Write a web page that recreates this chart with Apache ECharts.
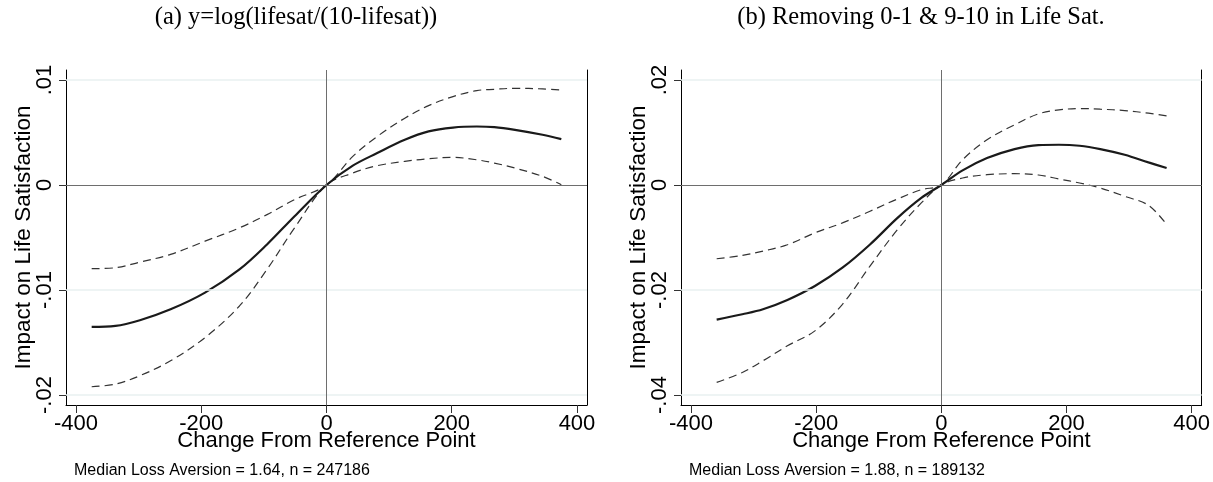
<!DOCTYPE html>
<html><head><meta charset="utf-8">
<script src="https://cdn.jsdelivr.net/npm/echarts@6/dist/echarts.min.js"></script>
<style>html,body{margin:0;padding:0;background:#fff}#c{width:1213px;height:482px}</style>
</head><body><div id="c"></div>
<script>
// ---- Panel (a) data ----
const xA = [-375,-337,-298,-249,-194,-139,-95,-51,0,42,81,125,163,202,240,268,301,345,375];
const estA = [-0.01351,-0.01342,-0.01288,-0.01184,-0.01025,-0.00804,-0.00566,-0.00297,0,0.00184,0.00304,0.0043,0.0051,0.00547,0.00557,0.00551,0.00525,0.00478,0.00437];
const hiA  = [-0.00797,-0.00788,-0.00734,-0.00661,-0.00535,-0.00408,-0.00282,-0.00139,0,0.00272,0.00462,0.00636,0.00756,0.00842,0.00899,0.00911,0.00921,0.00915,0.00905];
const loA  = [-0.01921,-0.01896,-0.01816,-0.01674,-0.01453,-0.01152,-0.00804,-0.00408,0,0.00114,0.00184,0.00225,0.0025,0.00263,0.0024,0.00209,0.00161,0.00082,0.00003];
// ---- Panel (b) data ----
const xB = [-359,-318,-285,-246,-202,-158,-114,-70,-32,0,34,73,117,155,188,221,254,293,331,360];
const estB = [-0.02563,-0.02462,-0.02367,-0.0219,-0.01924,-0.01576,-0.01133,-0.00627,-0.00247,0,0.00278,0.00513,0.00684,0.00759,0.00766,0.00747,0.00684,0.00576,0.0043,0.00323];
const hiB  = [-0.01405,-0.01342,-0.01259,-0.01139,-0.00911,-0.00722,-0.005,-0.00266,-0.00089,0,0.00481,0.00861,0.01146,0.01354,0.0143,0.01456,0.01443,0.01418,0.01367,0.01316];
const loB  = [-0.03759,-0.0357,-0.03348,-0.03063,-0.02778,-0.02272,-0.01544,-0.00848,-0.00342,0,0.00133,0.00196,0.00215,0.0019,0.00114,0.00038,-0.00057,-0.00215,-0.00386,-0.00753];
// ---- Ticks ----
const xTicks = [-400,-200,0,200,400];
const yTicksA = [0.01,0,-0.01,-0.02];
const yLabelsA = ['.01','0','-.01','-.02'];
const yTicksB = [0.02,0,-0.02,-0.04];
const yLabelsB = ['.02','0','-.02','-.04'];
// ---- Text ----
const titleA = '(a) y=log(lifesat/(10-lifesat))';
const titleB = '(b) Removing 0-1 & 9-10 in Life Sat.';
const yTitle = 'Impact on Life Satisfaction';
const xTitle = 'Change From Reference Point';
const noteA = 'Median Loss Aversion = 1.64, n = 247186';
const noteB = 'Median Loss Aversion = 1.88, n = 189132';

const FONT = 'Liberation Sans, Arial, sans-serif';
const zip = (xs, ys) => xs.map((x,i)=>[x, ys[i]]);

function xAxisFor(gi){
  return {type:'value', gridIndex:gi, min:-416, max:416,
    name:xTitle, nameLocation:'middle', nameGap:25, nameMoveOverlap:false,
    nameTextStyle:{fontFamily:FONT, fontSize:22, color:'#000'},
    axisLine:{onZero:false, lineStyle:{color:'#000', width:1}},
    axisTick:{customValues:xTicks, length:8, lineStyle:{color:'#333'}},
    axisLabel:{customValues:xTicks, margin:8, fontFamily:FONT, fontSize:22, color:'#000',
      formatter:v=>String(v)},
    splitLine:{show:false}};
}
function yAxisFor(gi, ticks, labels, mn, mx){
  return {type:'value', gridIndex:gi, min:mn, max:mx,
    name:yTitle, nameLocation:'middle', nameGap:31, nameRotate:90, nameMoveOverlap:false,
    nameTextStyle:{fontFamily:FONT, fontSize:22.5, color:'#000'},
    axisLine:{onZero:false, lineStyle:{color:'#000', width:1}},
    axisTick:{customValues:ticks, length:7, lineStyle:{color:'#333'}},
    axisLabel:{customValues:ticks, rotate:90, margin:10, fontFamily:FONT, fontSize:22, color:'#000',
      formatter:v=>{ let i=ticks.findIndex(t=>Math.abs(t-v)<1e-9); return i>=0?labels[i]:''; }},
    splitLine:{show:false}};
}
function rightBorder(gi, mn, mx){
  return {type:'value', gridIndex:gi, min:mn, max:mx, position:'right',
    axisLine:{show:true, onZero:false, lineStyle:{color:'#000', width:1}},
    axisTick:{show:false}, axisLabel:{show:false}, splitLine:{show:false}};
}
function gridLines(xi, yi, ticks){
  return {type:'line', xAxisIndex:xi, yAxisIndex:yi, data:[], silent:true, z:1,
    markLine:{silent:true, symbol:'none', animation:false, label:{show:false},
      data: ticks.filter(t=>t!==0).map(t=>({yAxis:t, lineStyle:{color:'#e8f0f1', width:1.5, type:'solid'}}))
        .concat([{yAxis:0, lineStyle:{color:'#6e6e6e', width:1, type:'solid'}},
                 {xAxis:0, lineStyle:{color:'#6e6e6e', width:1, type:'solid'}}])}};
}
function solid(xi, yi, data){
  return {type:'line', xAxisIndex:xi, yAxisIndex:yi, data, smooth:0.35, showSymbol:false, z:3,
    lineStyle:{color:'#1a1a1a', width:2.2}};
}
function dashed(xi, yi, data){
  return {type:'line', xAxisIndex:xi, yAxisIndex:yi, data, smooth:0.35, showSymbol:false, z:2,
    lineStyle:{color:'#333', width:1.2, type:[8,5]}};
}

const mnA=-0.02095, mxA=0.01095, mnB=-0.0419, mxB=0.0219;
const chart = echarts.init(document.getElementById('c'), null, {renderer:'canvas'});
const TSTYLE = {fontFamily:'Liberation Serif, serif', fontSize:24.5, fontWeight:'normal', color:'#000'};
chart.setOption({
  animation:false,
  backgroundColor:'#fff',
  title:[
    {text:titleA, left:291, top:0, textAlign:'center', textStyle:TSTYLE},
    {text:titleB, left:916, top:0, textAlign:'center', textStyle:TSTYLE},
    {text:noteA, left:69, top:458, textStyle:{fontFamily:FONT, fontSize:16, fontWeight:'normal', color:'#000'}},
    {text:noteB, left:684, top:458, textStyle:{fontFamily:FONT, fontSize:16, fontWeight:'normal', color:'#000'}}
  ],
  grid:[
    {left:66, top:70, width:521, height:335},
    {left:681, top:70, width:521, height:335}
  ],
  xAxis:[xAxisFor(0), xAxisFor(1)],
  yAxis:[yAxisFor(0,yTicksA,yLabelsA,mnA,mxA), yAxisFor(1,yTicksB,yLabelsB,mnB,mxB),
         rightBorder(0,mnA,mxA), rightBorder(1,mnB,mxB)],
  series:[
    gridLines(0,0,yTicksA), gridLines(1,1,yTicksB),
    dashed(0,0,zip(xA,hiA)), dashed(0,0,zip(xA,loA)), solid(0,0,zip(xA,estA)),
    dashed(1,1,zip(xB,hiB)), dashed(1,1,zip(xB,loB)), solid(1,1,zip(xB,estB))
  ]
});
</script></body></html>
